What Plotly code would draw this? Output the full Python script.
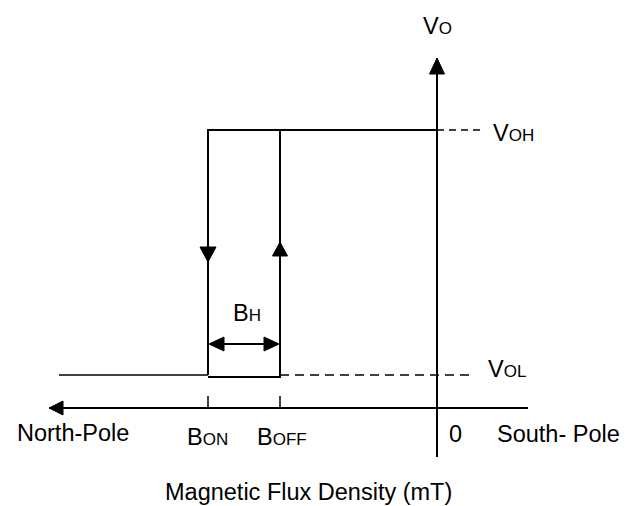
import plotly.graph_objects as go

# ---- schematic values (diagram units: 1 unit ~ 1 px, origin at B=0, Vo=0) ----
B_ON = -229
B_OFF = -157
B_ZERO = 0
V_OL = 33
V_OH = 278
B_LEFT_END = -378          # where the low output line starts (far north-pole side)
V_OH_DASH_END = 43
V_OL_DASH_END = 33
X_AXIS = [-388, 91]        # horizontal axis extent (arrow at left)
Y_AXIS = [-49, 350]        # vertical axis extent (arrow at top)
ARROW_DOWN_TIP = 146       # arrow on B_ON falling edge
ARROW_UP_TIP = 166         # arrow on B_OFF rising edge
BH_LEVEL = 64              # level of the B_H double arrow
TICK_LEN = 12

SUB = "<span style='font-size:17px'>{}</span>"
labels = {
    "vo": "V" + SUB.format("O"),
    "voh": "V" + SUB.format("OH"),
    "vol": "V" + SUB.format("OL"),
    "bon": "B" + SUB.format("ON"),
    "boff": "B" + SUB.format("OFF"),
    "bh": "B" + SUB.format("H"),
    "zero": "0",
    "south": "South- Pole",
    "north": "North-Pole",
    "xtitle": "Magnetic Flux Density (mT)",
}

BLACK = "#000000"
FONT = "Liberation Sans, Arial, sans-serif"
W, H = 638, 506


def tri(tip_x, tip_y, direction, length, half):
    """Filled triangle arrowhead with its tip at (tip_x, tip_y)."""
    if direction == "left":
        xs = [tip_x, tip_x + length, tip_x + length, tip_x]
        ys = [tip_y, tip_y + half, tip_y - half, tip_y]
    elif direction == "right":
        xs = [tip_x, tip_x - length, tip_x - length, tip_x]
        ys = [tip_y, tip_y + half, tip_y - half, tip_y]
    elif direction == "up":
        xs = [tip_x, tip_x - half, tip_x + half, tip_x]
        ys = [tip_y, tip_y - length, tip_y - length, tip_y]
    else:  # down
        xs = [tip_x, tip_x - half, tip_x + half, tip_x]
        ys = [tip_y, tip_y + length, tip_y + length, tip_y]
    return go.Scatter(x=xs, y=ys, mode="lines", fill="toself", fillcolor=BLACK,
                      line=dict(color=BLACK, width=1), hoverinfo="skip", showlegend=False)


def seg(xs, ys, width=2, dash="solid"):
    return go.Scatter(x=xs, y=ys, mode="lines", line=dict(color=BLACK, width=width, dash=dash),
                      hoverinfo="skip", showlegend=False)


fig = go.Figure()

# axes
fig.add_trace(seg(X_AXIS, [0, 0], width=2))
fig.add_trace(seg([B_ZERO, B_ZERO], Y_AXIS, width=2))
fig.add_trace(tri(X_AXIS[0], 0, "left", 14, 7))
fig.add_trace(tri(B_ZERO, Y_AXIS[1], "up", 16, 7.5))

# ticks at B_ON / B_OFF
fig.add_trace(seg([B_ON, B_ON], [0, TICK_LEN], width=1.5))
fig.add_trace(seg([B_OFF, B_OFF], [0, TICK_LEN], width=1.5))

# hysteresis loop
fig.add_trace(seg([B_LEFT_END, B_ON], [V_OL, V_OL], width=1.5))
fig.add_trace(seg([B_ON, B_ON, B_ZERO], [V_OL, V_OH, V_OH], width=2))
fig.add_trace(seg([B_ON, B_OFF, B_OFF], [V_OL - 2, V_OL - 2, V_OH], width=2))
fig.add_trace(tri(B_ON, ARROW_DOWN_TIP, "down", 15, 8))
fig.add_trace(tri(B_OFF, ARROW_UP_TIP, "up", 14, 7.5))

# dashed level continuations
fig.add_trace(seg([B_ZERO, V_OH_DASH_END], [V_OH, V_OH], width=1.5, dash="7px,5px"))
fig.add_trace(seg([B_OFF, V_OL_DASH_END], [V_OL, V_OL], width=1.5, dash="9px,6px"))

# B_H double arrow
fig.add_trace(seg([B_ON + 14, B_OFF - 14], [BH_LEVEL, BH_LEVEL], width=2))
fig.add_trace(tri(B_ON + 1, BH_LEVEL, "left", 15, 7))
fig.add_trace(tri(B_OFF - 1, BH_LEVEL, "right", 15, 7))


def label(text, x, y, xanchor="left"):
    fig.add_annotation(x=x, y=y, xref="x", yref="y", text=text, showarrow=False,
                       xanchor=xanchor, yanchor="middle", borderpad=0,
                       font=dict(family=FONT, size=23.5, color=BLACK))


label(labels["vo"], B_ZERO, 382, "center")
label(labels["voh"], 55, 275)
label(labels["vol"], 50, 39)
label(labels["zero"], 18, -26, "center")
label(labels["south"], 59, -26)
label(labels["north"], -421, -25)
label(labels["bon"], -251, -29)
label(labels["boff"], -181, -29)
label(labels["bh"], -205, 95)
label(labels["xtitle"], -273, -84)

fig.update_layout(
    width=W, height=H,
    margin=dict(l=0, r=0, t=0, b=0),
    paper_bgcolor="white", plot_bgcolor="white",
    showlegend=False,
    xaxis=dict(range=[-437, 201], visible=False, fixedrange=True),
    yaxis=dict(range=[-98, 408], visible=False, fixedrange=True),
)

fig.write_html(
    "out.html",
    config={"displayModeBar": False},
    post_script="document.body.style.margin='0';document.body.style.overflow='hidden';",
)
